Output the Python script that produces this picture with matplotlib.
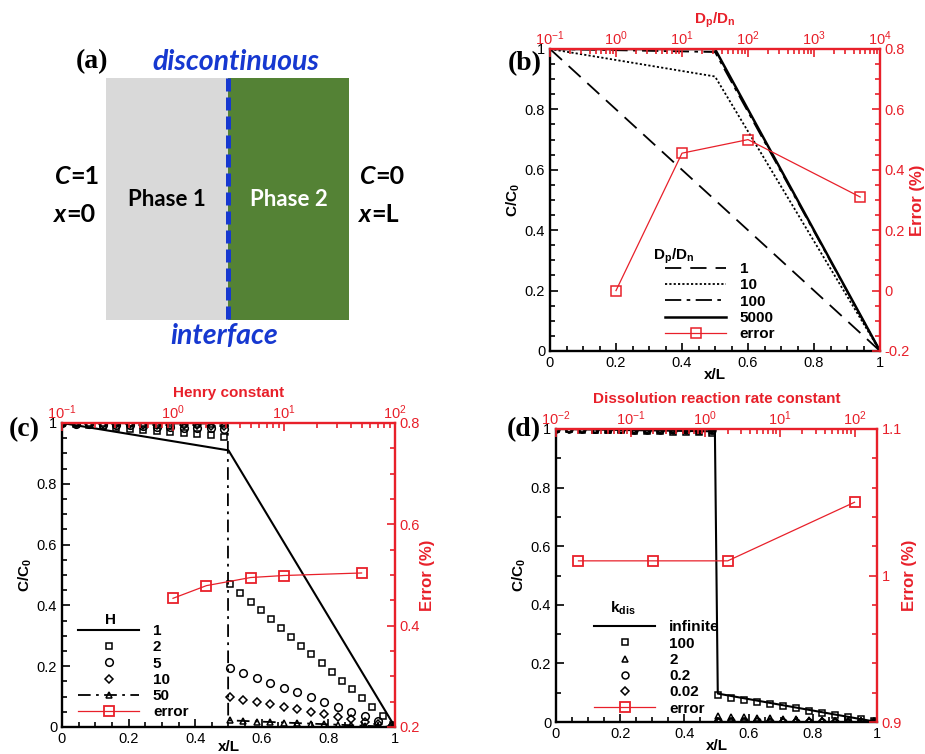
import matplotlib
matplotlib.use('Agg')
import matplotlib.pyplot as plt
from matplotlib.patches import Rectangle
from matplotlib.ticker import MultipleLocator, FuncFormatter, LogLocator, NullFormatter

plt.rcParams['font.family'] = 'Liberation Sans'
plt.rcParams['mathtext.fontset'] = 'custom'
plt.rcParams['mathtext.rm'] = 'Liberation Sans'
plt.rcParams['mathtext.bf'] = 'Liberation Sans:bold'
plt.rcParams['mathtext.it'] = 'Liberation Sans:italic'

RED = '#e8202a'
BLUE = '#1638d0'

# ---------------- data ----------------
# (b) diffusion coefficient ratio
x_b = [0, 0.5, 1]
c_b_1 = [1, 0.5, 0]
c_b_10 = [1, 0.909, 0]
c_b_100 = [1, 0.99, 0]
c_b_5000 = [1, 0.9998, 0]
ratio_b = [1, 10, 100, 5000]
err_b = [0.0, 0.455, 0.5, 0.31]

# grid points used by the markers in (c) and (d)
x_p1 = [0, 0.041, 0.081, 0.122, 0.162, 0.203, 0.243, 0.284, 0.324, 0.365, 0.405, 0.446, 0.486]
x_p2 = [0.504, 0.545, 0.585, 0.626, 0.666, 0.707, 0.747, 0.788, 0.828, 0.869, 0.909, 0.950, 0.990]

# (c) Henry constant
x_c_h1 = [0, 0.5, 1]
c_c_h1 = [1, 0.91, 0]
x_c_h2 = [0.504, 0.536, 0.567, 0.598, 0.629, 0.659, 0.689, 0.719, 0.749, 0.780,
          0.810, 0.840, 0.871, 0.902, 0.932, 0.963, 0.993]
c_c_h2_p1 = [1.0, 0.996, 0.993, 0.989, 0.985, 0.981, 0.978, 0.974, 0.970, 0.967, 0.963, 0.959, 0.955]
c_c_h2_p2 = [0.469, 0.442, 0.412, 0.384, 0.355, 0.326, 0.297, 0.268, 0.239, 0.209,
             0.181, 0.152, 0.124, 0.095, 0.066, 0.037, 0.008]
c_c_h5_p1 = [1.0, 0.998, 0.997, 0.995, 0.993, 0.992, 0.990, 0.988, 0.987, 0.985, 0.983, 0.982, 0.980]
c_c_h5_p2 = [0.194, 0.178, 0.161, 0.145, 0.129, 0.114, 0.098, 0.082, 0.066, 0.050, 0.035, 0.019, 0.004]
c_c_h10_p1 = [1.0, 0.999, 0.998, 0.998, 0.997, 0.996, 0.995, 0.994, 0.993, 0.993, 0.992, 0.991, 0.990]
c_c_h10_p2 = [0.098, 0.090, 0.082, 0.075, 0.066, 0.058, 0.050, 0.042, 0.034, 0.026, 0.018, 0.010, 0.002]
c_c_h50_p1 = [1.0, 1.0, 1.0, 0.999, 0.999, 0.999, 0.999, 0.999, 0.999, 0.998, 0.998, 0.998, 0.998]
c_c_h50_p2 = [0.022, 0.020, 0.018, 0.016, 0.014, 0.012, 0.011, 0.009, 0.007, 0.005, 0.003, 0.002, 0.0]
x_c_h50_line = [0, 0.498, 0.499, 1]
c_c_h50_line = [1, 0.998, 0.022, 0]
henry = [1, 2, 5, 10, 50]
err_c = [0.454, 0.479, 0.495, 0.499, 0.504]

# (d) dissolution reaction rate constant
x_d_inf = [0, 0.495, 0.504, 1]
c_d_inf = [1, 0.992, 0.097, 0]
c_d_k100_p1 = [1.0, 0.999, 0.998, 0.997, 0.996, 0.995, 0.994, 0.993, 0.992, 0.991, 0.990, 0.989, 0.988]
c_d_k100_p2 = [0.091, 0.082, 0.075, 0.068, 0.061, 0.053, 0.047, 0.039, 0.032, 0.024, 0.017, 0.010, 0.002]
c_d_k2_p1 = [1.0, 0.999, 0.999, 0.998, 0.998, 0.997, 0.997, 0.996, 0.996, 0.995, 0.995, 0.994, 0.994]
c_d_k2_p2 = [0.019, 0.017, 0.016, 0.014, 0.012, 0.011, 0.009, 0.008, 0.006, 0.004, 0.003, 0.001, 0.0]
c_d_k02_p1 = [1.0, 1.0, 0.999, 0.999, 0.999, 0.999, 0.998, 0.998, 0.998, 0.998, 0.997, 0.997, 0.997]
c_d_k02_p2 = [0.002, 0.002, 0.002, 0.002, 0.001, 0.001, 0.001, 0.001, 0.001, 0.0, 0.0, 0.0, 0.0]
c_d_k002_p1 = [1.0, 1.0, 1.0, 1.0, 1.0, 1.0, 0.999, 0.999, 0.999, 0.999, 0.999, 0.999, 0.999]
c_d_k002_p2 = [0.0, 0.0, 0.0, 0.0, 0.0, 0.0, 0.0, 0.0, 0.0, 0.0, 0.0, 0.0, 0.0]
kdis = [0.02, 0.2, 2, 100]
err_d = [1.010, 1.010, 1.010, 1.050]

# ---------------- figure ----------------
W, H = 925, 754
fig = plt.figure(figsize=(W / 100, H / 100), dpi=100)


def px_box(x0, y0, x1, y1):
    return [x0 / W, 1 - y1 / H, (x1 - x0) / W, (y1 - y0) / H]


def fig_text(x, y, s, **kw):
    fig.text(x / W, 1 - y / H, s, **kw)


gfmt = FuncFormatter(lambda v, pos: '%g' % round(v, 6))
TICK = 10.5


def make_panel(box, top_lim, right_lim, right_major, right_minor, y_minor, top_label, xl_pad=-1):
    ax = fig.add_axes(box)
    ax.set_xlim(0, 1)
    ax.set_ylim(0, 1)
    ax.xaxis.set_major_locator(MultipleLocator(0.2))
    ax.xaxis.set_minor_locator(MultipleLocator(0.05))
    ax.yaxis.set_major_locator(MultipleLocator(0.2))
    ax.yaxis.set_minor_locator(MultipleLocator(y_minor))
    ax.xaxis.set_major_formatter(gfmt)
    ax.yaxis.set_major_formatter(gfmt)
    ax.tick_params(which='both', direction='in', top=False, right=False, labelsize=TICK, width=1.2)
    ax.tick_params(which='major', length=6)
    ax.tick_params(which='minor', length=3.5)
    ax.spines['top'].set_visible(False)
    ax.spines['right'].set_visible(False)
    for s in ('left', 'bottom'):
        ax.spines[s].set_linewidth(1.7)
    ax.set_xlabel('x/L', fontweight='bold', fontsize=11, labelpad=xl_pad)
    ax.set_ylabel(r'$\mathbf{C/C_0}$', fontsize=11, labelpad=2)

    ae = fig.add_axes(box)
    ae.patch.set_visible(False)
    ae.set_xscale('log')
    ae.set_xlim(*top_lim)
    ae.set_ylim(*right_lim)
    ae.xaxis.set_ticks_position('top')
    ae.xaxis.set_label_position('top')
    ae.yaxis.set_ticks_position('right')
    ae.yaxis.set_label_position('right')
    ae.xaxis.set_major_locator(LogLocator(base=10, numticks=10))
    ae.xaxis.set_minor_locator(LogLocator(base=10, subs=range(2, 10), numticks=20))
    ae.xaxis.set_minor_formatter(NullFormatter())
    ae.yaxis.set_major_locator(MultipleLocator(right_major))
    ae.yaxis.set_minor_locator(MultipleLocator(right_minor))
    ae.yaxis.set_major_formatter(gfmt)
    ae.tick_params(which='both', direction='in', colors=RED, labelsize=TICK, width=1.2)
    ae.tick_params(which='major', length=6)
    ae.tick_params(which='minor', length=3.5)
    ae.tick_params(axis='x', pad=1)
    ae.spines['left'].set_visible(False)
    ae.spines['bottom'].set_visible(False)
    for s in ('top', 'right'):
        ae.spines[s].set_color(RED)
        ae.spines[s].set_linewidth(1.7)
    ae.set_xlabel(top_label, color=RED, fontsize=11, fontweight='bold', labelpad=4)
    ae.set_ylabel('Error (%)', color=RED, fontsize=12, fontweight='bold', labelpad=0)
    return ax, ae


# ---------------- (a) schematic ----------------
aa = fig.add_axes([0, 0.5, 0.5, 0.5])
aa.set_xlim(0, W / 2)
aa.set_ylim(H / 2, 0)
aa.axis('off')
aa.add_patch(Rectangle((106, 78), 122, 242, facecolor='#d9d9d9', edgecolor='none'))
aa.add_patch(Rectangle((228, 78), 121, 242, facecolor='#548235', edgecolor='none'))
aa.plot([227.5, 227.5], [78, 320], color=BLUE, lw=3.6, dashes=(2.6, 1.2), solid_capstyle='butt')
aa.text(92, 62, '(a)', family='Liberation Serif', fontweight='bold', fontsize=20, ha='center', va='center')
aa.text(236, 62, 'discontinuous', family='Lato', style='italic', fontweight='bold', fontsize=20.5,
        color=BLUE, ha='center', va='center')
aa.text(224, 336, 'interface', family='Lato', style='italic', fontweight='bold', fontsize=20.5,
        color=BLUE, ha='center', va='center')
aa.text(167, 200, 'Phase 1', family='Lato', fontweight='bold', fontsize=16, ha='center', va='center')
aa.text(289, 200, 'Phase 2', family='Lato', fontweight='bold', fontsize=16, color='white',
        ha='center', va='center')
for xs, top, bot in ((70, '=1', '=0'), (375, '=0', '=L')):
    aa.text(xs, 176, 'C', family='Lato', style='italic', fontweight='bold', fontsize=18, ha='right', va='center')
    aa.text(xs, 176, top, family='Lato', fontweight='bold', fontsize=18, ha='left', va='center')
    aa.text(xs - 4, 214, 'x', family='Lato', style='italic', fontweight='bold', fontsize=18, ha='right', va='center')
    aa.text(xs - 4, 214, bot, family='Lato', fontweight='bold', fontsize=18, ha='left', va='center')

leg_kw = dict(frameon=False, prop={'weight': 'bold', 'size': 11}, handlelength=4.0,
              labelspacing=0.15, handletextpad=0.9, borderaxespad=0)

# ---------------- (b) ----------------
axb, aeb = make_panel(px_box(550, 49, 880, 351), (0.1, 1e4), (-0.2, 0.8), 0.2, 0.05, 0.05,
                      r'$\mathbf{D_p/D_n}$')
hb = []
hb += axb.plot(x_b, c_b_1, color='k', lw=1.3, dashes=(9, 5), label='1')
hb += axb.plot(x_b, c_b_10, color='k', lw=1.3, dashes=(1.2, 1.2), label='10')
hb += axb.plot(x_b, c_b_100, color='k', lw=1.3, dashes=(9, 3, 2, 3), label='100')
hb += axb.plot(x_b, c_b_5000, color='k', lw=1.8, label='5000')
hb += aeb.plot(ratio_b, err_b, color=RED, lw=0.9, marker='s', ms=6.5, mfc='none', mec=RED, mew=1.1,
               label='error')
aeb.legend(handles=hb, loc='upper left', bbox_to_anchor=(0.33, 0.315), **leg_kw)
fig_text(674, 256, r'$\mathbf{D_p/D_n}$', fontsize=11, ha='center', va='center')
fig_text(525, 64, '(b)', family='Liberation Serif', fontweight='bold', fontsize=20, ha='center', va='center')

# ---------------- (c) ----------------
axc, aec = make_panel(px_box(62, 423, 395, 727), (0.1, 100), (0.2, 0.8), 0.2, 0.05, 0.05,
                      'Henry constant', xl_pad=-4)
hc = []
mk = dict(ls='none', mfc='none', mec='k', mew=1.1)
hc += axc.plot(x_c_h1, c_c_h1, color='k', lw=1.5, label='1')
hc += axc.plot(x_p1 + x_c_h2, c_c_h2_p1 + c_c_h2_p2, marker='s', ms=4.5, label='2', **mk)
hc += axc.plot(x_p1 + x_p2, c_c_h5_p1 + c_c_h5_p2, marker='o', ms=5.5, label='5', **mk)
hc += axc.plot(x_p1 + x_p2, c_c_h10_p1 + c_c_h10_p2, marker='D', ms=4.2, label='10', **mk)
axc.plot(x_c_h50_line, c_c_h50_line, color='k', lw=1.3, dashes=(7, 3, 1.5, 3))
axc.plot(x_p1 + x_p2, c_c_h50_p1 + c_c_h50_p2, marker='^', ms=4.5, **mk)
h50, = axc.plot([], [], color='k', lw=1.3, dashes=(7, 3, 1.5, 3), marker='^', ms=4.5,
                mfc='none', mec='k', mew=1.1, label='50')
hc.append(h50)
hc += aec.plot(henry, err_c, color=RED, lw=0.9, marker='s', ms=7, mfc='none', mec=RED, mew=1.3,
               label='error')
aec.legend(handles=hc, loc='upper left', bbox_to_anchor=(0.03, 0.359), **leg_kw)
fig_text(110, 620, 'H', fontweight='bold', fontsize=11, ha='center', va='center')
fig_text(24, 430, '(c)', family='Liberation Serif', fontweight='bold', fontsize=20, ha='center', va='center')

# ---------------- (d) ----------------
axd, aed = make_panel(px_box(556, 429, 877, 722), (0.01, 200), (0.9, 1.1), 0.1, 0.02, 0.1,
                      'Dissolution reaction rate constant')
hd = []
hd += axd.plot(x_d_inf, c_d_inf, color='k', lw=1.5, label='infinite')
hd += axd.plot(x_p1 + x_p2, c_d_k100_p1 + c_d_k100_p2, marker='s', ms=4.5, label='100', **mk)
hd += axd.plot(x_p1 + x_p2, c_d_k2_p1 + c_d_k2_p2, marker='^', ms=4.5, label='2', **mk)
hd += axd.plot(x_p1 + x_p2, c_d_k02_p1 + c_d_k02_p2, marker='o', ms=5, label='0.2', **mk)
hd += axd.plot(x_p1 + x_p2, c_d_k002_p1 + c_d_k002_p2, marker='D', ms=4, label='0.02', **mk)
hd += aed.plot(kdis, err_d, color=RED, lw=0.9, marker='s', ms=7, mfc='none', mec=RED, mew=1.3,
               label='error')
aed.legend(handles=hd, loc='upper left', bbox_to_anchor=(0.10, 0.368), **leg_kw)
fig_text(623, 608, r'$\mathbf{k_{dis}}$', fontsize=11, ha='center', va='center')
fig_text(524, 430, '(d)', family='Liberation Serif', fontweight='bold', fontsize=20, ha='center', va='center')

fig.savefig('out.png', dpi=100)
